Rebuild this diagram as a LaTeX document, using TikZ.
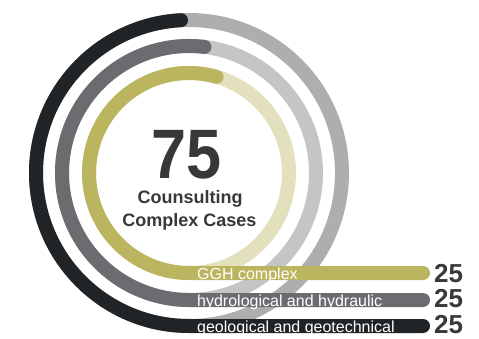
\documentclass[tikz,border=0pt]{standalone}
\usepackage{fontspec}
\setmainfont{Liberation Sans}
\definecolor{darkring}{HTML}{212427}
\definecolor{midring}{HTML}{6B6C70}
\definecolor{oliveRing}{HTML}{BCB560}
\definecolor{outerTrack}{HTML}{ADAEB0}
\definecolor{midTrack}{HTML}{C5C5C6}
\definecolor{oliveTrack}{HTML}{E3E1BD}
\definecolor{numgray}{HTML}{383838}
\tikzset{
  track/.style={line width=14pt},
  ring/.style={line width=14pt, line cap=round},
  barlabel/.style={anchor=base west, text=white, inner sep=0pt, font=\fontsize{16}{16}\selectfont},
  count/.style={anchor=base west, text=numgray, inner sep=0pt, font=\bfseries\fontsize{26}{26}\selectfont},
  centertext/.style={anchor=base, text=numgray, inner sep=0pt, font=\bfseries\fontsize{18}{18}\selectfont}
}

\begin{document}
\begin{tikzpicture}[x=1pt,y=1pt]
  \useasboundingbox (0,0) rectangle (479,338);
  \coordinate (O) at (189,165);
  \coordinate (endGeo) at (423,12);
  \coordinate (endHyd) at (423,38);
  \coordinate (endGGH) at (423,65);

  % light tracks
  \draw[track, outerTrack] (O) circle[radius=153pt];
  \draw[track, midTrack] (O) circle[radius=127pt];
  \draw[track, oliveTrack] (O) circle[radius=100pt];

  % coloured arcs running out into the bars
  \draw[ring, darkring] (O) ++(93:153pt) arc[start angle=93, end angle=270, radius=153pt] -- (endGeo);
  \draw[ring, midring] (O) ++(83:127pt) arc[start angle=83, end angle=270, radius=127pt] -- (endHyd);
  \draw[ring, oliveRing] (O) ++(74:100pt) arc[start angle=74, end angle=270, radius=100pt] -- (endGGH);

  % bar labels
  \node[barlabel] (ggh) at (197,59) {GGH complex};
  \node[barlabel] (hyd) at (197,32) {hydrological and hydraulic};
  \node[barlabel] (geo) at (197,6) {geological and geotechnical};

  \node[count] (nGGH) at (434,56) {25};
  \node[count] (nHyd) at (434,30.5) {25};
  \node[count] (nGeo) at (434,4.5) {25};

  % centre
  \node[anchor=base, text=numgray, inner sep=0pt, xscale=0.9,
        font=\bfseries\fontsize{70}{70}\selectfont] (total) at (187,160) {75};
  \node[centertext] (line1) at (190,135) {Counsulting};
  \node[centertext] (line2) at (189.5,112) {Complex Cases};
\end{tikzpicture}
\end{document}
